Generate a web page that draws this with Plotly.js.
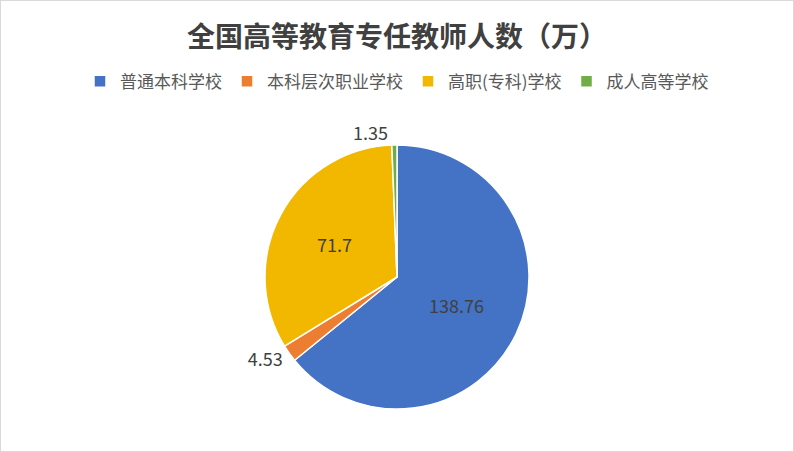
<!DOCTYPE html>
<html>
<head>
<meta charset="utf-8">
<script src="https://cdn.plot.ly/plotly-3.0.1.min.js"></script>
<style>
  body { margin: 0; background: #fff; }
  #plot { width: 792px; height: 450px; border: 1px solid #d9d9d9; }
</style>
</head>
<body>
<div id="plot"></div>
<script>
// school types and teacher counts (10k)
const schoolTypes = ['普通本科学校', '本科层次职业学校', '高职(专科)学校', '成人高等学校'];
const teacherCounts = [138.76, 4.53, 71.7, 1.35];
const sliceColors = ['#4472C4', '#ED7D31', '#F2B800', '#70AD47'];
const labelPositions = ['inside', 'outside', 'inside', 'outside'];

let trace = {
    type: 'pie',
    labels: schoolTypes,
    values: teacherCounts,
    sort: false,
    direction: 'clockwise',
    rotation: 0,
    textinfo: 'value',
    textposition: labelPositions,
    insidetextorientation: 'horizontal',
    textfont: {family: 'Noto Sans CJK SC, sans-serif', size: 18, color: '#404040'},
    marker: {colors: sliceColors, line: {color: '#ffffff', width: 1.5}},
    hoverinfo: 'label+value',
    domain: {x: [0, 1], y: [0, 1]}
};

let layout = {
    width: 792,
    height: 450,
    margin: {t: 144, b: 42, l: 0, r: 0},
    paper_bgcolor: '#ffffff',
    showlegend: true,
    title: {
        text: '<b>全国高等教育专任教师人数（万）</b>',
        font: {family: 'Noto Sans CJK SC, serif', size: 28, color: '#404040'},
        x: 0.5, xanchor: 'center',
        y: 0.92, yref: 'container', yanchor: 'middle'
    },
    legend: {
        orientation: 'h',
        x: 0.5, xanchor: 'center',
        y: 1.24, yanchor: 'middle',
        itemwidth: 30,
        font: {family: 'Noto Sans CJK SC, sans-serif', size: 17, color: '#595959'},
        traceorder: 'normal'
    }
};

Plotly.newPlot('plot', [trace], layout, {displayModeBar: false});
</script>
</body>
</html>
